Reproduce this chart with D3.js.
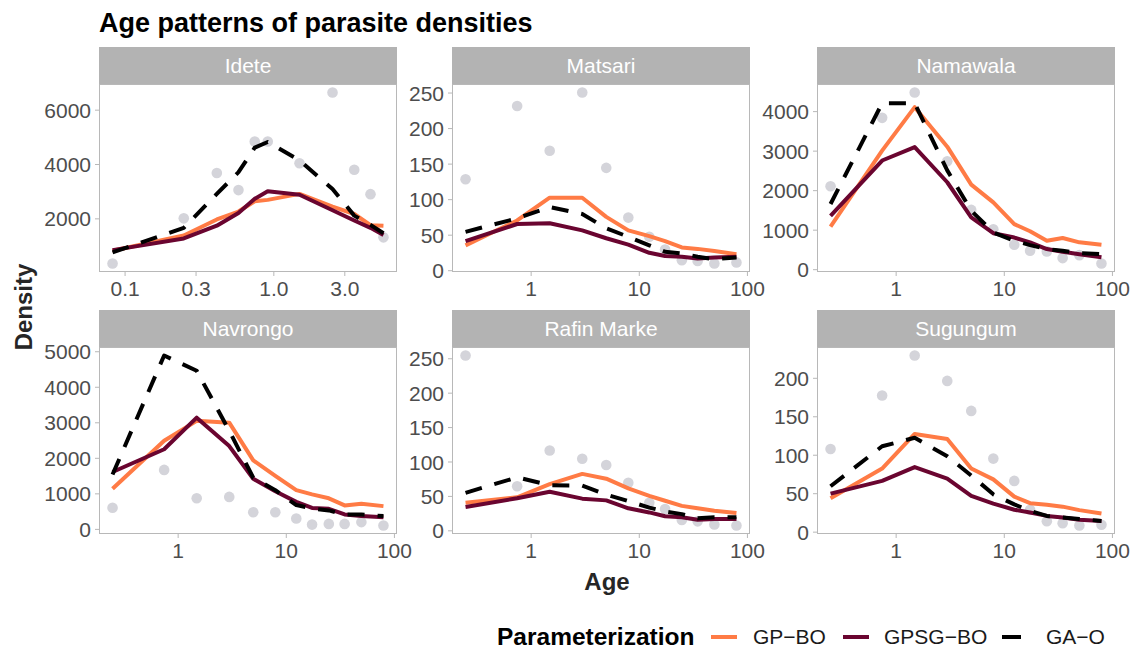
<!DOCTYPE html>
<html>
<head>
<meta charset="utf-8">
<script src="https://cdn.jsdelivr.net/npm/d3@7"></script>
<style>
  body { margin: 0; background: #ffffff; }
  text { font-family: "Liberation Sans", Arial, Helvetica, sans-serif; }
</style>
</head>
<body>
<svg id="chart" width="1136" height="651"></svg>
<script>
// ---- Data -------------------------------------------------------------
const sites = ["Idete", "Matsari", "Namawala", "Navrongo", "Rafin Marke", "Sugungum"];
const seriesNames = ["GP\u2212BO", "GPSG\u2212BO", "GA\u2212O"];

// Age-group midpoints (years)
const agesIdete = [0.083, 0.25, 0.417, 0.583, 0.75, 0.917, 1.5, 2.5, 3.5, 4.5, 5.5];
const agesOther = [0.25, 0.75, 1.5, 3, 5, 8, 12.5, 17.5, 25, 35, 50, 80];

// Observed densities and fitted curves per site
const obsIdete   = [340, 2000, 3670, 3040, 4830, 4830, 4030, 6630, 3790, 2890, 1300];
const gpboIdete  = [810, 1370, 1960, 2250, 2630, 2680, 2900, 2430, 2160, 1750, 1730];
const gpsgIdete  = [830, 1260, 1730, 2200, 2720, 3000, 2870, 2300, 1920, 1650, 1390];
const gaoIdete   = [750, 1650, 2900, 3700, 4600, 4810, 4130, 3080, 2100, 1760, 1450];

const obsMatsari  = [128, 231, 168, 250, 144, 74, 47, 29, 14, 13, 9.5, 11];
const gpboMatsari = [35, 70, 102, 102, 75, 56, 48, 41, 32, 30, 27, 22.5];
const gpsgMatsari = [41, 65, 66, 56, 45, 36, 24.5, 20, 19, 16.5, 18, 19];
const gaoMatsari  = [54, 73, 89, 79, 59, 47, 35, 26, 23.5, 19, 15.5, 18];

const obsNamawala  = [2100, 3830, 4470, 2730, 1500, 1010, 620, 465, 450, 280, 355, 145];
const gpboNamawala = [1080, 3000, 4100, 3100, 2140, 1690, 1140, 960, 720, 790, 680, 620];
const gpsgNamawala = [1350, 2750, 3090, 2200, 1310, 910, 800, 680, 510, 440, 380, 300];
const gaoNamawala  = [1650, 4200, 4200, 2500, 1480, 930, 720, 610, 510, 465, 405, 380];

const obsNavrongo  = [595, 1660, 860, 900, 470, 470, 290, 120, 140, 140, 190, 95];
const gpboNavrongo = [1130, 2480, 3040, 2990, 1930, 1490, 1090, 970, 860, 660, 710, 640];
const gpsgNavrongo = [1600, 2240, 3130, 2330, 1410, 1060, 760, 590, 565, 405, 360, 330];
const gaoNavrongo  = [1530, 4880, 4450, 2760, 1440, 1090, 670, 575, 520, 405, 405, 360];

const obsRafin  = [254, 64, 116, 104, 95, 69, 40, 31, 15, 13, 8.5, 7];
const gpboRafin = [40, 48, 67, 82, 75, 61, 50, 43, 35.5, 32, 28.5, 25];
const gpsgRafin = [34, 46.5, 56, 46, 43.5, 32, 26, 20.5, 19, 15.5, 16.5, 16.5];
const gaoRafin  = [54.5, 77, 65.5, 65, 52, 42.5, 33, 27.5, 23.5, 17.5, 19, 19];

const obsSugungum  = [107.5, 177, 229, 196, 157, 95, 66, 28.5, 13.5, 11, 8, 9];
const gpboSugungum = [43.5, 82, 127, 120.5, 82, 68, 45.5, 37, 35, 32.5, 28, 23.5];
const gpsgSugungum = [49.5, 66, 84, 69, 46.5, 36.5, 28.5, 25, 20.5, 18.5, 15.5, 14];
const gaoSugungum  = [59, 111, 122, 98, 73, 48.5, 35.5, 27, 20.5, 18.5, 16.5, 14];

// Axis ticks
const xTicksIdete  = [0.1, 0.3, 1, 3];
const xLabelsIdete = ["0.1", "0.3", "1.0", "3.0"];
const xTicksOther  = [1, 10, 100];
const xLabelsOther = ["1", "10", "100"];
const yTicksIdete    = [2000, 4000, 6000];
const yTicksMatsari  = [0, 50, 100, 150, 200, 250];
const yTicksNamawala = [0, 1000, 2000, 3000, 4000];
const yTicksNavrongo = [0, 1000, 2000, 3000, 4000, 5000];
const yTicksRafin    = [0, 50, 100, 150, 200, 250];
const yTicksSugungum = [0, 50, 100, 150, 200];

// ---- Panel table ------------------------------------------------------
const panels = [
  { name: sites[0], ages: agesIdete, obs: obsIdete, fits: [gpboIdete, gpsgIdete, gaoIdete], xt: xTicksIdete, xl: xLabelsIdete, yt: yTicksIdete },
  { name: sites[1], ages: agesOther, obs: obsMatsari, fits: [gpboMatsari, gpsgMatsari, gaoMatsari], xt: xTicksOther, xl: xLabelsOther, yt: yTicksMatsari },
  { name: sites[2], ages: agesOther, obs: obsNamawala, fits: [gpboNamawala, gpsgNamawala, gaoNamawala], xt: xTicksOther, xl: xLabelsOther, yt: yTicksNamawala },
  { name: sites[3], ages: agesOther, obs: obsNavrongo, fits: [gpboNavrongo, gpsgNavrongo, gaoNavrongo], xt: xTicksOther, xl: xLabelsOther, yt: yTicksNavrongo },
  { name: sites[4], ages: agesOther, obs: obsRafin, fits: [gpboRafin, gpsgRafin, gaoRafin], xt: xTicksOther, xl: xLabelsOther, yt: yTicksRafin },
  { name: sites[5], ages: agesOther, obs: obsSugungum, fits: [gpboSugungum, gpsgSugungum, gaoSugungum], xt: xTicksOther, xl: xLabelsOther, yt: yTicksSugungum }
];

// ---- Styling / layout -------------------------------------------------
const lineColors = ["#FF7B45", "#6A0530", "#000000"];
const lineDash   = [null, null, "17,13"];
const lineWidth  = 4;
const pointColor = "#D4D4DA";
const stripFill  = "#B3B3B3";
const borderCol  = "#B8B8B8";
const tickText   = "#4D4D4D";

const colLeft = [99, 452, 817];
const panelW = 298;
const stripTop = [47, 310];
const stripH = 37;
const panelBottom = [272, 534];

const svg = d3.select("#chart");
svg.append("rect").attr("width", 1136).attr("height", 651).attr("fill", "#ffffff");

// Title
svg.append("text")
  .attr("x", 99).attr("y", 32)
  .attr("font-size", 27).attr("font-weight", "bold").attr("fill", "#000")
  .text("Age patterns of parasite densities");

// Expand a numeric extent by 5% on each side
function expand(ext, mult) {
  const r = ext[1] - ext[0];
  return [ext[0] - mult * r, ext[1] + mult * r];
}

panels.forEach((p, i) => {
  const col = i % 3, row = Math.floor(i / 3);
  const x0 = colLeft[col], x1 = x0 + panelW;
  const sTop = stripTop[row], pTop = sTop + stripH, pBot = panelBottom[row];

  const lext = expand(d3.extent(p.ages).map(Math.log10), 0.05);
  const x = d3.scaleLog().domain([Math.pow(10, lext[0]), Math.pow(10, lext[1])]).range([x0, x1]);

  const allY = p.obs.concat(...p.fits);
  const y = d3.scaleLinear().domain(expand(d3.extent(allY), 0.05)).range([pBot, pTop]);

  const g = svg.append("g");

  // Strip
  g.append("rect")
    .attr("x", x0).attr("y", sTop).attr("width", panelW).attr("height", stripH)
    .attr("fill", stripFill);
  g.append("text")
    .attr("x", (x0 + x1) / 2).attr("y", sTop + stripH / 2 + 7.5)
    .attr("text-anchor", "middle").attr("font-size", 21).attr("fill", "#ffffff")
    .text(p.name);

  // Axes
  const xAxis = d3.axisBottom(x).tickValues(p.xt).tickFormat((d, j) => p.xl[j])
    .tickSize(4).tickPadding(3);
  const gx = g.append("g").attr("transform", `translate(0,${pBot})`).call(xAxis);
  const yAxis = d3.axisLeft(y).tickValues(p.yt).tickFormat(d3.format("d"))
    .tickSize(4).tickPadding(4);
  const gy = g.append("g").attr("transform", `translate(${x0},0)`).call(yAxis);
  [gx, gy].forEach(a => {
    a.select(".domain").remove();
    a.selectAll(".tick line").attr("stroke", borderCol).attr("stroke-width", 1);
    a.selectAll(".tick text").attr("fill", tickText).attr("font-size", 21)
      .attr("font-family", '"Liberation Sans", Arial, sans-serif');
  });
  gx.selectAll(".tick text").attr("dy", "0.82em");
  gy.selectAll(".tick text").attr("dy", "0.36em");

  // Observed points
  g.append("g").selectAll("circle")
    .data(p.ages.map((a, k) => ({ a, v: p.obs[k] })))
    .join("circle")
    .attr("cx", d => x(d.a)).attr("cy", d => y(d.v)).attr("r", 5.3)
    .attr("fill", pointColor);

  // Fitted curves
  const line = d3.line().x(d => x(d.a)).y(d => y(d.v));
  p.fits.forEach((vals, s) => {
    g.append("path")
      .datum(p.ages.map((a, k) => ({ a, v: vals[k] })))
      .attr("d", line)
      .attr("fill", "none")
      .attr("stroke", lineColors[s])
      .attr("stroke-width", lineWidth)
      .attr("stroke-linejoin", "round")
      .attr("stroke-dasharray", lineDash[s]);
  });

  // Panel border
  g.append("rect")
    .attr("x", x0 + 0.5).attr("y", pTop + 0.5)
    .attr("width", panelW - 1).attr("height", pBot - pTop - 1)
    .attr("fill", "none").attr("stroke", borderCol).attr("stroke-width", 1);
});

// Axis titles
svg.append("text")
  .attr("x", 607).attr("y", 590)
  .attr("text-anchor", "middle").attr("font-size", 24).attr("font-weight", "bold").attr("fill", "#262626")
  .text("Age");
svg.append("text")
  .attr("transform", "translate(32,307) rotate(-90)")
  .attr("text-anchor", "middle").attr("font-size", 24).attr("font-weight", "bold").attr("fill", "#262626")
  .text("Density");

// Legend
const legend = svg.append("g");
legend.append("text")
  .attr("x", 497).attr("y", 645)
  .attr("font-size", 24.5).attr("font-weight", "bold").attr("fill", "#000")
  .text("Parameterization");
const keyX = [711, 843, 1002];
const labelX = [753, 884, 1046];
seriesNames.forEach((nm, s) => {
  legend.append("line")
    .attr("x1", keyX[s]).attr("x2", keyX[s] + 26)
    .attr("y1", 637).attr("y2", 637)
    .attr("stroke", lineColors[s]).attr("stroke-width", lineWidth)
    .attr("stroke-dasharray", s === 2 ? "19,13" : null);
  legend.append("text")
    .attr("x", labelX[s]).attr("y", 644)
    .attr("font-size", 21).attr("fill", "#1a1a1a")
    .text(nm);
});
</script>
</body>
</html>
